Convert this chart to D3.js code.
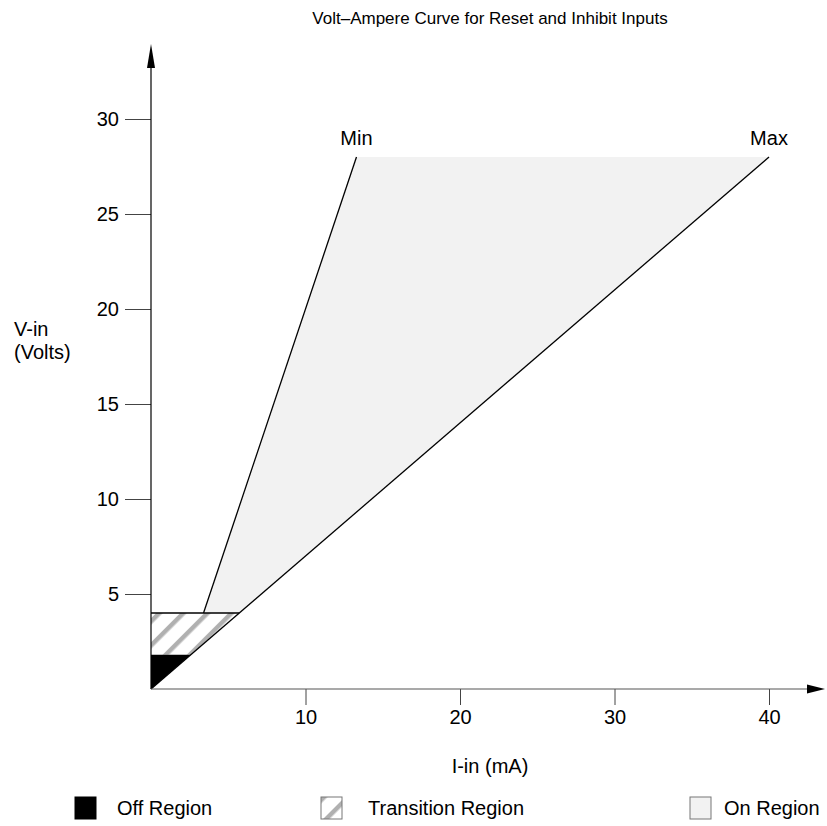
<!DOCTYPE html>
<html>
<head>
<meta charset="utf-8">
<script src="https://cdn.jsdelivr.net/npm/d3@7/dist/d3.min.js"></script>
<style>
  html, body { margin: 0; padding: 0; background: #fff; }
  svg { display: block; font-family: "Liberation Sans", Arial, Helvetica, sans-serif; }
</style>
</head>
<body>
<svg id="chart" width="827" height="826"></svg>
<script>
// Axis ticks
const xTicks = [10, 20, 30, 40];
const yTicks = [5, 10, 15, 20, 25, 30];

// Boundary curves (I-in mA, V-in Volts)
const maxCurve = [[0, 0], [40, 28]];
const minCurve = [[3.4, 4], [13.3, 28]];
const thresholdLine = [[0, 4], [5.71, 4]];

// Operating regions
const offRegion = [[0, 0], [0, 1.8], [2.57, 1.8]];
const transitionRegion = [[0, 1.8], [0, 4], [5.71, 4], [2.57, 1.8]];
const onRegion = [[3.4, 4], [13.3, 28], [40, 28], [5.71, 4]];

// Legend entries
const legendLabels = ["Off Region", "Transition Region", "On Region"];
const legendFills = ["#000", "url(#hatch)", "#f2f2f2"];
const legendX = [75, 321, 690];

const svg = d3.select("#chart");

const x = d3.scaleLinear().domain([0, 40]).range([151, 769]);
const y = d3.scaleLinear().domain([0, 30]).range([689, 119]);

// Hatch pattern for the transition region
const defs = svg.append("defs");
const pat = defs.append("pattern")
  .attr("id", "hatch")
  .attr("patternUnits", "userSpaceOnUse")
  .attr("width", 17)
  .attr("height", 17)
  .attr("patternTransform", "rotate(45)");
pat.append("rect").attr("width", 17).attr("height", 17).attr("fill", "#fff");
pat.append("rect").attr("x", 0).attr("width", 4.5).attr("height", 17).attr("fill", "#b0b0b0");

const poly = d3.line().x(d => x(d[0])).y(d => y(d[1]));

svg.append("path").attr("d", poly(onRegion) + "Z").attr("fill", "#f2f2f2");
svg.append("path").attr("d", poly(transitionRegion) + "Z").attr("fill", "url(#hatch)");
svg.append("path").attr("d", poly(offRegion) + "Z").attr("fill", "#000");

// Boundary lines
[maxCurve, minCurve, thresholdLine].forEach(c => {
  svg.append("path").attr("d", poly(c))
    .attr("fill", "none").attr("stroke", "#000").attr("stroke-width", 1.3);
});

// Axes
const xAxis = d3.axisBottom(x).tickValues(xTicks).tickSize(16).tickPadding(5);
const gx = svg.append("g").attr("transform", `translate(0,${y(0)})`).call(xAxis);
gx.select(".domain").remove();
gx.selectAll("line").attr("stroke", "#444");
gx.selectAll("text").attr("font-size", 20).attr("fill", "#000").attr("font-family", null);

const yAxis = d3.axisLeft(y).tickValues(yTicks).tickSize(26).tickPadding(6);
const gy = svg.append("g").attr("transform", `translate(${x(0)},0)`).call(yAxis);
gy.select(".domain").remove();
gy.selectAll("line").attr("stroke", "#444");
gy.selectAll("text").attr("font-size", 20).attr("fill", "#000").attr("font-family", null);

// Axis lines with arrowheads
svg.append("line").attr("x1", x(0)).attr("y1", y(0)).attr("x2", x(0)).attr("y2", 60)
  .attr("stroke", "#000").attr("stroke-width", 1.2);
svg.append("path").attr("d", `M${x(0)},44 L${x(0) - 4},68 L${x(0) + 4},68 Z`).attr("fill", "#000");
svg.append("line").attr("x1", x(0)).attr("y1", y(0)).attr("x2", 812).attr("y2", y(0))
  .attr("stroke", "#555").attr("stroke-width", 1.2);
svg.append("path").attr("d", `M825,${y(0)} L807,${y(0) - 4.5} L807,${y(0) + 4.5} Z`).attr("fill", "#000");

// Curve labels
svg.append("text").attr("x", x(13.3)).attr("y", 145).attr("text-anchor", "middle")
  .attr("font-size", 20).text("Min");
svg.append("text").attr("x", x(40)).attr("y", 145).attr("text-anchor", "middle")
  .attr("font-size", 20).text("Max");

// Title and axis titles
svg.append("text").attr("x", 490).attr("y", 24).attr("text-anchor", "middle")
  .attr("font-size", 17).text("Volt\u2013Ampere Curve for Reset and Inhibit Inputs");
svg.append("text").attr("x", 490).attr("y", 773).attr("text-anchor", "middle")
  .attr("font-size", 20).text("I-in (mA)");
svg.append("text").attr("x", 14).attr("y", 336).attr("font-size", 20).text("V-in");
svg.append("text").attr("x", 14).attr("y", 359).attr("font-size", 20).text("(Volts)");

// Legend
const lg = svg.append("g").selectAll("g").data(legendLabels).join("g")
  .attr("transform", (d, i) => `translate(${legendX[i]},797)`);
lg.append("rect").attr("width", 21).attr("height", 22)
  .attr("fill", (d, i) => legendFills[i])
  .attr("stroke", (d, i) => i === 0 ? "#000" : "#777").attr("stroke-width", 1);
lg.append("text").attr("x", (d, i) => i === 0 ? 42 : (i === 1 ? 47 : 34)).attr("y", 18)
  .attr("font-size", 20).text(d => d);
</script>
</body>
</html>
